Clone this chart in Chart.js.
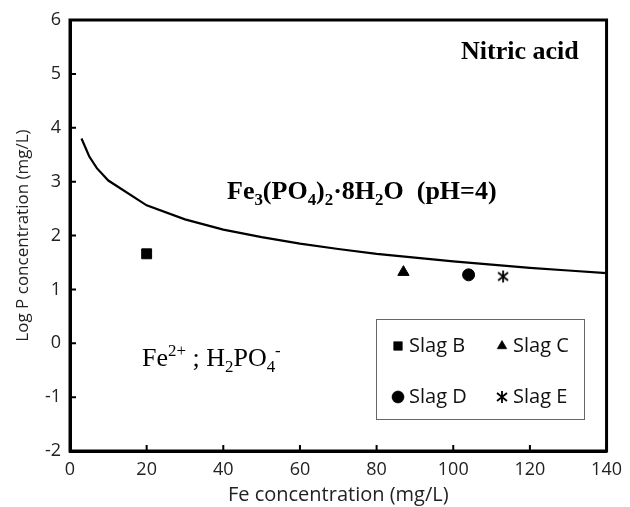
<!DOCTYPE html>
<html><head><meta charset="utf-8">
<script src="https://cdn.jsdelivr.net/npm/chart.js@4/dist/chart.umd.min.js"></script>
<style>html,body{margin:0;padding:0;background:#fff;}#wrap{width:630px;height:507px;}</style>
</head><body><div id="wrap"><canvas id="c" width="630" height="507"></canvas></div>
<script>
// ---- data ----
const curveFe   = [3, 5, 7, 10, 20, 30, 40, 50, 60, 70, 80, 90, 100, 110, 120, 130, 140];
const curveLogP = [3.80, 3.47, 3.25, 3.02, 2.56, 2.30, 2.11, 1.97, 1.85, 1.75, 1.66, 1.59, 1.52, 1.46, 1.40, 1.35, 1.30];
const slagNames = ['Slag B', 'Slag C', 'Slag D', 'Slag E'];
const slagFe    = [20, 87, 104, 113];
const slagLogP  = [1.66, 1.32, 1.27, 1.24];
const xTicks = [0, 20, 40, 60, 80, 100, 120, 140];
const yTicks = [-2, -1, 0, 1, 2, 3, 4, 5, 6];
const xTitle = 'Fe concentration (mg/L)';
const yTitle = 'Log P concentration (mg/L)';

const SANS = '"Open Sans", Lato, sans-serif';
const SERIF = '"Liberation Serif", "DejaVu Serif", serif';

// star marker (X with vertical bar)
function starCanvas(){
  const c = document.createElement('canvas'); c.width = 14; c.height = 14;
  const g = c.getContext('2d'); g.strokeStyle = '#000'; g.lineWidth = 1.8;
  g.beginPath(); g.moveTo(7,1); g.lineTo(7,13);
  g.moveTo(2,3); g.lineTo(12,11); g.moveTo(2,11); g.lineTo(12,3); g.stroke();
  return c;
}
const starImg = starCanvas();
const styles = ['rect', 'triangle', 'circle', starImg];
const radii = [7, 6.5, 6, 7];

const datasets = [{
  type: 'line', label: 'curve',
  data: curveFe.map((x,i)=>({x, y: curveLogP[i]})),
  borderColor: '#000', borderWidth: 2.2, pointRadius: 0, tension: 0, fill: false
}];
slagNames.forEach((n,i)=>{
  datasets.push({
    type: 'scatter', label: n,
    data: [{x: slagFe[i], y: slagLogP[i]}],
    pointStyle: styles[i], pointRadius: radii[i], pointHoverRadius: radii[i],
    backgroundColor: '#000', borderColor: '#000', borderWidth: 1
  });
});

function drawRich(ctx, parts, x, y, size, bold){
  let cx = x;
  ctx.textBaseline = 'alphabetic'; ctx.textAlign = 'left';
  parts.forEach(([t, mode])=>{
    const s = mode ? size*0.65 : size;
    ctx.font = (bold?'bold ':'') + s + 'px ' + SERIF;
    const dy = mode === 'sub' ? size*0.22 : (mode === 'sup' ? -size*0.38 : 0);
    ctx.fillText(t, cx, y + dy);
    cx += ctx.measureText(t).width;
  });
}

const decor = {
  id: 'decor',
  afterDraw(chart){
    const ctx = chart.ctx, a = chart.chartArea;
    const xs = chart.scales.x, ys = chart.scales.y;
    ctx.save();
    ctx.fillStyle = '#000'; ctx.strokeStyle = '#000';
    // frame
    ctx.lineWidth = 3;
    ctx.strokeRect(a.left, a.top, a.right - a.left, a.bottom - a.top);
    // inner ticks
    ctx.lineWidth = 2;
    ctx.beginPath();
    xTicks.forEach(v=>{ const p = xs.getPixelForValue(v); ctx.moveTo(p, a.bottom); ctx.lineTo(p, a.bottom - 6); });
    yTicks.forEach(v=>{ const p = ys.getPixelForValue(v); ctx.moveTo(a.left, p); ctx.lineTo(a.left + 6, p); });
    ctx.stroke();
    // annotations
    ctx.font = 'bold 26px ' + SERIF; ctx.textBaseline = 'alphabetic'; ctx.textAlign = 'left';
    ctx.fillText('Nitric acid', 461, 59);
    drawRich(ctx, [['Fe',''],['3','sub'],['(PO',''],['4','sub'],[')',''],['2','sub'],['\u00B78H',''],['2','sub'],['O  (pH=4)','']], 227, 199, 26, true);
    drawRich(ctx, [['Fe',''],['2+','sup'],[' ; H',''],['2','sub'],['PO',''],['4','sub'],['-','sup']], 142, 366, 26, false);
    // legend box
    ctx.lineWidth = 1; ctx.strokeStyle = '#666';
    ctx.strokeRect(376.5, 319.5, 208, 100);
    const pos = [[398,346],[502,346],[398,397],[502,397]];
    ctx.font = '20px ' + SANS; ctx.textBaseline = 'middle'; ctx.fillStyle = '#111';
    slagNames.forEach((n,i)=>{
      const [px,py] = pos[i];
      if (i === 3) { ctx.drawImage(starImg, px-7, py-7); }
      else {
        Chart.helpers.drawPoint(ctx, {pointStyle: styles[i], radius: i===2?6:(i===1?5.5:6), borderWidth: 1}, px, py);
        ctx.fillStyle = '#000'; ctx.fill();
      }
      ctx.fillStyle = '#111';
      ctx.fillText(n, px + 11, py);
    });
    ctx.restore();
  }
};

new Chart(document.getElementById('c'), {
  data: { datasets },
  options: {
    responsive: false, animation: false,
    layout: { padding: { top: 20, right: 18, left: 0, bottom: 0 } },
    plugins: { legend: { display: false }, tooltip: { enabled: false } },
    scales: {
      x: {
        type: 'linear', min: 0, max: 140,
        afterBuildTicks: s => { s.ticks = xTicks.map(v=>({value:v})); },
        afterFit: s => { s.height = 56; },
        grid: { display: false, drawTicks: false },
        border: { display: true, color: '#000', width: 3 },
        ticks: { color: '#222', font: { family: SANS, size: 18 }, padding: 8 },
        title: { display: true, text: xTitle, color: '#222', font: { family: SANS, size: 20 }, padding: { top: 0, bottom: 0 } }
      },
      y: {
        type: 'linear', min: -2, max: 6,
        afterBuildTicks: s => { s.ticks = yTicks.map(v=>({value:v})); },
        afterFit: s => { s.width = 70; },
        grid: { display: false, drawTicks: false },
        border: { display: true, color: '#000', width: 3 },
        ticks: { color: '#222', font: { family: SANS, size: 18 }, padding: 9 },
        title: { display: true, text: yTitle, color: '#222', font: { family: SANS, size: 17 }, padding: { top: 13, bottom: 0 } }
      }
    }
  },
  plugins: [decor]
});
</script></body></html>
